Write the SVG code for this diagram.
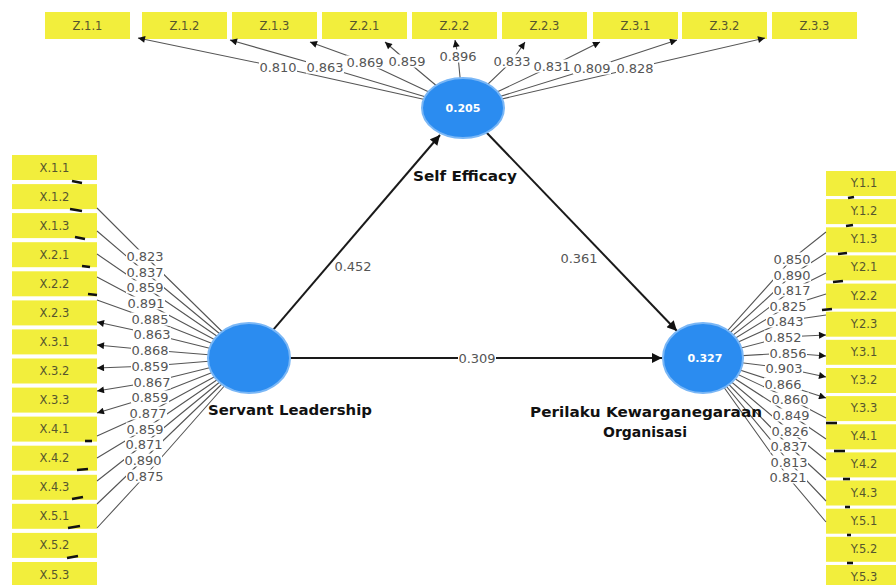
<svg xmlns="http://www.w3.org/2000/svg" width="896" height="585" viewBox="0 0 896 585">
<style>
.box{fill:#f2ee3c}
.bt{font-family:"DejaVu Sans",sans-serif;font-size:11.5px;fill:#55552e;text-anchor:middle}
.m{fill:none;stroke:#555;stroke-width:1.1}
.s{fill:none;stroke:#1a1a1a;stroke-width:2}
.lb{fill:#fff}
.lt{font-family:"DejaVu Sans",sans-serif;font-size:13px;fill:#555;text-anchor:middle}
.d{stroke:#111;stroke-width:2.6}
.c{fill:#2b8cf0;stroke:#7ab7f6;stroke-width:2}
.ct{font-family:"DejaVu Sans",sans-serif;font-weight:bold;font-size:11px;fill:#fff;text-anchor:middle}
.nt{font-family:"DejaVu Sans",sans-serif;font-weight:bold;font-size:14px;fill:#111}
</style>
<defs>
<marker id="ah" viewBox="0 0 10 10" refX="10" refY="5" markerWidth="9" markerHeight="7" markerUnits="userSpaceOnUse" orient="auto"><path d="M0,0 L10,5 L0,10 z" fill="#111"/></marker>
<marker id="ahs" viewBox="0 0 10 10" refX="10" refY="5" markerWidth="12" markerHeight="10" markerUnits="userSpaceOnUse" orient="auto"><path d="M0,0 L10,5 L0,10 z" fill="#111"/></marker>
</defs>
<rect width="896" height="585" fill="#fff"/>

<!-- Z indicators -->
<g id="Z11"><rect class="box" x="45" y="12" width="85" height="27"/><text class="bt" x="87.5" y="30">Z.1.1</text></g>
<g id="Z12"><rect class="box" x="142" y="12" width="85" height="27"/><text class="bt" x="184.5" y="30">Z.1.2</text></g>
<g id="Z13"><rect class="box" x="232" y="12" width="85" height="27"/><text class="bt" x="274.5" y="30">Z.1.3</text></g>
<g id="Z21"><rect class="box" x="322" y="12" width="85" height="27"/><text class="bt" x="364.5" y="30">Z.2.1</text></g>
<g id="Z22"><rect class="box" x="412" y="12" width="85" height="27"/><text class="bt" x="454.5" y="30">Z.2.2</text></g>
<g id="Z23"><rect class="box" x="502" y="12" width="85" height="27"/><text class="bt" x="544.5" y="30">Z.2.3</text></g>
<g id="Z31"><rect class="box" x="593" y="12" width="85" height="27"/><text class="bt" x="635.5" y="30">Z.3.1</text></g>
<g id="Z32"><rect class="box" x="682" y="12" width="85" height="27"/><text class="bt" x="724.5" y="30">Z.3.2</text></g>
<g id="Z33"><rect class="box" x="772" y="12" width="85" height="27"/><text class="bt" x="814.5" y="30">Z.3.3</text></g>

<!-- X indicators -->
<g id="X11"><rect class="box" x="12" y="155" width="85" height="25"/><text class="bt" x="54.5" y="171.5">X.1.1</text></g>
<g id="X12"><rect class="box" x="12" y="184.1" width="85" height="25"/><text class="bt" x="54.5" y="200.6">X.1.2</text></g>
<g id="X13"><rect class="box" x="12" y="213.1" width="85" height="25"/><text class="bt" x="54.5" y="229.6">X.1.3</text></g>
<g id="X21"><rect class="box" x="12" y="242.2" width="85" height="25"/><text class="bt" x="54.5" y="258.7">X.2.1</text></g>
<g id="X22"><rect class="box" x="12" y="271.3" width="85" height="25"/><text class="bt" x="54.5" y="287.8">X.2.2</text></g>
<g id="X23"><rect class="box" x="12" y="300.4" width="85" height="25"/><text class="bt" x="54.5" y="316.9">X.2.3</text></g>
<g id="X31"><rect class="box" x="12" y="329.4" width="85" height="25"/><text class="bt" x="54.5" y="345.9">X.3.1</text></g>
<g id="X32"><rect class="box" x="12" y="358.5" width="85" height="25"/><text class="bt" x="54.5" y="375">X.3.2</text></g>
<g id="X33"><rect class="box" x="12" y="387.6" width="85" height="25"/><text class="bt" x="54.5" y="404.1">X.3.3</text></g>
<g id="X41"><rect class="box" x="12" y="416.6" width="85" height="25"/><text class="bt" x="54.5" y="433.1">X.4.1</text></g>
<g id="X42"><rect class="box" x="12" y="445.7" width="85" height="25"/><text class="bt" x="54.5" y="462.2">X.4.2</text></g>
<g id="X43"><rect class="box" x="12" y="474.8" width="85" height="25"/><text class="bt" x="54.5" y="491.3">X.4.3</text></g>
<g id="X51"><rect class="box" x="12" y="503.8" width="85" height="25"/><text class="bt" x="54.5" y="520.3">X.5.1</text></g>
<g id="X52"><rect class="box" x="12" y="532.9" width="85" height="25"/><text class="bt" x="54.5" y="549.4">X.5.2</text></g>
<g id="X53"><rect class="box" x="12" y="562" width="85" height="25"/><text class="bt" x="54.5" y="578.5">X.5.3</text></g>

<!-- Y indicators -->
<g id="Y11"><rect class="box" x="826" y="171" width="76" height="25"/><text class="bt" x="864" y="187">Y.1.1</text></g>
<g id="Y12"><rect class="box" x="826" y="199.1" width="76" height="25"/><text class="bt" x="864" y="215.1">Y.1.2</text></g>
<g id="Y13"><rect class="box" x="826" y="227.3" width="76" height="25"/><text class="bt" x="864" y="243.3">Y.1.3</text></g>
<g id="Y21"><rect class="box" x="826" y="255.4" width="76" height="25"/><text class="bt" x="864" y="271.4">Y.2.1</text></g>
<g id="Y22"><rect class="box" x="826" y="283.6" width="76" height="25"/><text class="bt" x="864" y="299.6">Y.2.2</text></g>
<g id="Y23"><rect class="box" x="826" y="311.7" width="76" height="25"/><text class="bt" x="864" y="327.7">Y.2.3</text></g>
<g id="Y31"><rect class="box" x="826" y="339.8" width="76" height="25"/><text class="bt" x="864" y="355.8">Y.3.1</text></g>
<g id="Y32"><rect class="box" x="826" y="368" width="76" height="25"/><text class="bt" x="864" y="384">Y.3.2</text></g>
<g id="Y33"><rect class="box" x="826" y="396.1" width="76" height="25"/><text class="bt" x="864" y="412.1">Y.3.3</text></g>
<g id="Y41"><rect class="box" x="826" y="424.3" width="76" height="25"/><text class="bt" x="864" y="440.3">Y.4.1</text></g>
<g id="Y42"><rect class="box" x="826" y="452.4" width="76" height="25"/><text class="bt" x="864" y="468.4">Y.4.2</text></g>
<g id="Y43"><rect class="box" x="826" y="480.5" width="76" height="25"/><text class="bt" x="864" y="496.5">Y.4.3</text></g>
<g id="Y51"><rect class="box" x="826" y="508.7" width="76" height="25"/><text class="bt" x="864" y="524.7">Y.5.1</text></g>
<g id="Y52"><rect class="box" x="826" y="536.8" width="76" height="25"/><text class="bt" x="864" y="552.8">Y.5.2</text></g>
<g id="Y53"><rect class="box" x="826" y="565" width="76" height="25"/><text class="bt" x="864" y="581">Y.5.3</text></g>

<g id="connectors">
<!-- structural paths -->
<line class="s" x1="249" y1="358" x2="440" y2="135" marker-end="url(#ahs)"/>
<line class="s" x1="463" y1="108" x2="677" y2="331" marker-end="url(#ahs)"/>
<line class="s" x1="249" y1="358" x2="662" y2="358" marker-end="url(#ahs)"/>
<text class="lt" x="353" y="270.5">0.452</text>
<text class="lt" x="579" y="262.5">0.361</text>
<rect class="lb" x="458" y="351" width="38" height="13"/><text class="lt" x="477" y="362.5">0.309</text>

<!-- Self Efficacy loadings -->
<polyline class="m" points="463,108 278,67 138,38" marker-end="url(#ah)"/>
<polyline class="m" points="463,108 325,67 230,40" marker-end="url(#ah)"/>
<polyline class="m" points="463,108 365,62 310,42" marker-end="url(#ah)"/>
<polyline class="m" points="463,108 407,61 385,42" marker-end="url(#ah)"/>
<polyline class="m" points="463,108 458,56 455,40" marker-end="url(#ah)"/>
<polyline class="m" points="463,108 512,61 525,42" marker-end="url(#ah)"/>
<polyline class="m" points="463,108 552,66 600,42" marker-end="url(#ah)"/>
<polyline class="m" points="463,108 592,68 677,40" marker-end="url(#ah)"/>
<polyline class="m" points="463,108 635,68 765,38" marker-end="url(#ah)"/>
<rect class="lb" x="259" y="60.5" width="38" height="13"/><text class="lt" x="278" y="71.5">0.810</text>
<rect class="lb" x="306" y="60.5" width="38" height="13"/><text class="lt" x="325" y="71.5">0.863</text>
<rect class="lb" x="346" y="55.5" width="38" height="13"/><text class="lt" x="365" y="66.5">0.869</text>
<rect class="lb" x="388" y="54.5" width="38" height="13"/><text class="lt" x="407" y="65.5">0.859</text>
<rect class="lb" x="439" y="49.5" width="38" height="13"/><text class="lt" x="458" y="60.5">0.896</text>
<rect class="lb" x="493" y="54.5" width="38" height="13"/><text class="lt" x="512" y="65.5">0.833</text>
<rect class="lb" x="533" y="59.5" width="38" height="13"/><text class="lt" x="552" y="70.5">0.831</text>
<rect class="lb" x="573" y="61.5" width="38" height="13"/><text class="lt" x="592" y="72.5">0.809</text>
<rect class="lb" x="616" y="61.5" width="38" height="13"/><text class="lt" x="635" y="72.5">0.828</text>

<!-- Servant Leadership loadings -->
<polyline class="m" points="249,358 145,256 97,208"/>
<polyline class="m" points="249,358 145,272 97,231"/>
<polyline class="m" points="249,358 145,287 97,254"/>
<polyline class="m" points="249,358 146,303 97,277"/>
<polyline class="m" points="249,358 150,319 97,300"/>
<polyline class="m" points="249,358 152,334 97,322" marker-end="url(#ah)"/>
<polyline class="m" points="249,358 150,350 97,345" marker-end="url(#ah)"/>
<polyline class="m" points="249,358 150,366 97,368" marker-end="url(#ah)"/>
<polyline class="m" points="249,358 152,382 97,391" marker-end="url(#ah)"/>
<polyline class="m" points="249,358 150,397 97,413" marker-end="url(#ah)"/>
<polyline class="m" points="249,358 148,413 97,436"/>
<polyline class="m" points="249,358 145,429 97,458"/>
<polyline class="m" points="249,358 144,444 97,481"/>
<polyline class="m" points="249,358 143,460 97,504"/>
<polyline class="m" points="249,358 145,476 97,528"/>
<rect class="lb" x="126" y="249.5" width="38" height="13"/><text class="lt" x="145" y="260.5">0.823</text>
<rect class="lb" x="126" y="265.5" width="38" height="13"/><text class="lt" x="145" y="276.5">0.837</text>
<rect class="lb" x="126" y="280.5" width="38" height="13"/><text class="lt" x="145" y="291.5">0.859</text>
<rect class="lb" x="127" y="296.5" width="38" height="13"/><text class="lt" x="146" y="307.5">0.891</text>
<rect class="lb" x="131" y="312.5" width="38" height="13"/><text class="lt" x="150" y="323.5">0.885</text>
<rect class="lb" x="133" y="327.5" width="38" height="13"/><text class="lt" x="152" y="338.5">0.863</text>
<rect class="lb" x="131" y="343.5" width="38" height="13"/><text class="lt" x="150" y="354.5">0.868</text>
<rect class="lb" x="131" y="359.5" width="38" height="13"/><text class="lt" x="150" y="370.5">0.859</text>
<rect class="lb" x="133" y="375.5" width="38" height="13"/><text class="lt" x="152" y="386.5">0.867</text>
<rect class="lb" x="131" y="390.5" width="38" height="13"/><text class="lt" x="150" y="401.5">0.859</text>
<rect class="lb" x="129" y="406.5" width="38" height="13"/><text class="lt" x="148" y="417.5">0.877</text>
<rect class="lb" x="126" y="422.5" width="38" height="13"/><text class="lt" x="145" y="433.5">0.859</text>
<rect class="lb" x="125" y="437.5" width="38" height="13"/><text class="lt" x="144" y="448.5">0.871</text>
<rect class="lb" x="124" y="453.5" width="38" height="13"/><text class="lt" x="143" y="464.5">0.890</text>
<rect class="lb" x="126" y="469.5" width="38" height="13"/><text class="lt" x="145" y="480.5">0.875</text>
<line class="d" x1="72" y1="181" x2="82" y2="183"/>
<line class="d" x1="70" y1="209" x2="82" y2="211"/>
<line class="d" x1="75" y1="237" x2="85" y2="239"/>
<line class="d" x1="82" y1="266" x2="90" y2="267"/>
<line class="d" x1="88" y1="294" x2="97" y2="295"/>
<line class="d" x1="85" y1="441" x2="92" y2="441"/>
<line class="d" x1="77" y1="470" x2="88" y2="469"/>
<line class="d" x1="72" y1="499" x2="83" y2="497"/>
<line class="d" x1="68" y1="528" x2="80" y2="526"/>
<line class="d" x1="67" y1="558" x2="78" y2="556"/>

<!-- Perilaku loadings -->
<polyline class="m" points="703,358 792,259 826,232"/>
<polyline class="m" points="703,358 792,275 826,253"/>
<polyline class="m" points="703,358 792,290 826,273"/>
<polyline class="m" points="703,358 788,306 826,294"/>
<polyline class="m" points="703,358 785,321 826,315"/>
<polyline class="m" points="703,358 783,337 826,335" marker-end="url(#ah)"/>
<polyline class="m" points="703,358 788,353 826,356" marker-end="url(#ah)"/>
<polyline class="m" points="703,358 784,368 826,377" marker-end="url(#ah)"/>
<polyline class="m" points="703,358 783,384 826,398" marker-end="url(#ah)"/>
<polyline class="m" points="703,358 790,399 826,418"/>
<polyline class="m" points="703,358 791,415 826,439"/>
<polyline class="m" points="703,358 790,431 826,460"/>
<polyline class="m" points="703,358 789,446 826,480"/>
<polyline class="m" points="703,358 789,462 826,501"/>
<polyline class="m" points="703,358 788,477 826,522"/>
<rect class="lb" x="773" y="252.5" width="38" height="13"/><text class="lt" x="792" y="263.5">0.850</text>
<rect class="lb" x="773" y="268.5" width="38" height="13"/><text class="lt" x="792" y="279.5">0.890</text>
<rect class="lb" x="773" y="283.5" width="38" height="13"/><text class="lt" x="792" y="294.5">0.817</text>
<rect class="lb" x="769" y="299.5" width="38" height="13"/><text class="lt" x="788" y="310.5">0.825</text>
<rect class="lb" x="766" y="314.5" width="38" height="13"/><text class="lt" x="785" y="325.5">0.843</text>
<rect class="lb" x="764" y="330.5" width="38" height="13"/><text class="lt" x="783" y="341.5">0.852</text>
<rect class="lb" x="769" y="346.5" width="38" height="13"/><text class="lt" x="788" y="357.5">0.856</text>
<rect class="lb" x="765" y="361.5" width="38" height="13"/><text class="lt" x="784" y="372.5">0.903</text>
<rect class="lb" x="764" y="377.5" width="38" height="13"/><text class="lt" x="783" y="388.5">0.866</text>
<rect class="lb" x="771" y="392.5" width="38" height="13"/><text class="lt" x="790" y="403.5">0.860</text>
<rect class="lb" x="772" y="408.5" width="38" height="13"/><text class="lt" x="791" y="419.5">0.849</text>
<rect class="lb" x="771" y="424.5" width="38" height="13"/><text class="lt" x="790" y="435.5">0.826</text>
<rect class="lb" x="770" y="439.5" width="38" height="13"/><text class="lt" x="789" y="450.5">0.837</text>
<rect class="lb" x="770" y="455.5" width="38" height="13"/><text class="lt" x="789" y="466.5">0.813</text>
<rect class="lb" x="769" y="470.5" width="38" height="13"/><text class="lt" x="788" y="481.5">0.821</text>
<line class="d" x1="848" y1="198" x2="854" y2="197"/>
<line class="d" x1="846" y1="226" x2="853" y2="225"/>
<line class="d" x1="838" y1="254" x2="847" y2="253"/>
<line class="d" x1="833" y1="282" x2="843" y2="281"/>
<line class="d" x1="822" y1="310" x2="832" y2="309"/>
<line class="d" x1="826" y1="423" x2="837" y2="423"/>
<line class="d" x1="834" y1="451" x2="845" y2="451"/>
<line class="d" x1="843" y1="479" x2="850" y2="479"/>
<line class="d" x1="845" y1="507" x2="850" y2="507"/>
<line class="d" x1="847" y1="535" x2="851" y2="535"/>
<line class="d" x1="847" y1="563" x2="853" y2="563"/>
</g>

<g id="SelfEfficacy">
<ellipse class="c" cx="463" cy="108" rx="41" ry="30"/>
<text class="ct" x="463" y="112">0.205</text>
<text class="nt" x="465" y="181" text-anchor="middle" textLength="104" lengthAdjust="spacingAndGlyphs">Self Efficacy</text>
</g>
<g id="ServantLeadership">
<ellipse class="c" cx="249" cy="358" rx="41" ry="35"/>
<text class="nt" x="208" y="415" textLength="164" lengthAdjust="spacingAndGlyphs">Servant Leadership</text>
</g>
<g id="PerilakuKewarganegaraanOrganisasi">
<ellipse class="c" cx="703" cy="358" rx="40" ry="35"/>
<text class="ct" x="705" y="362">0.327</text>
<text class="nt" x="646" y="417" text-anchor="middle" textLength="232" lengthAdjust="spacingAndGlyphs">Perilaku Kewarganegaraan</text>
<text class="nt" x="645" y="437" text-anchor="middle">Organisasi</text>
</g>
</svg>
